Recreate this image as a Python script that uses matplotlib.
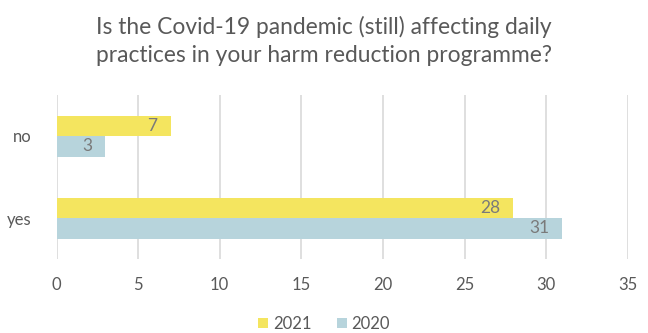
import matplotlib
matplotlib.use("Agg")
import matplotlib.pyplot as plt
import numpy as np

categories = ["yes", "no"]
values_2021 = [28, 7]
values_2020 = [31, 3]
series_labels = ["2021", "2020"]
xticks = [0, 5, 10, 15, 20, 25, 30, 35]

plt.rcParams['font.family'] = ['Lato', 'DejaVu Sans']

fig = plt.figure(figsize=(6.48, 3.33), dpi=100)
ax = fig.add_axes([56.5/648, 1-259/333, (627.7-56.5)/648, 164/333])

y = np.arange(len(categories))
h = 0.25
c21 = "#F4E55F"
c20 = "#B7D4DC"
b1 = ax.barh(y + h/2, values_2021, height=h, color=c21, label=series_labels[0], zorder=3)
b2 = ax.barh(y - h/2, values_2020, height=h, color=c20, label=series_labels[1], zorder=3)

for bars in (b1, b2):
    for bar in bars:
        w = bar.get_width()
        ax.text(w - 0.8, bar.get_y() + bar.get_height()/2, f"{int(w)}",
                ha="right", va="center", fontsize=12.5, color="#7a7a7a", zorder=4)

ax.set_xlim(0, 35)
ax.set_ylim(-0.5, 1.5)
ax.set_xticks(xticks)
ax.set_yticks(y)
ax.set_yticklabels(categories)
ax.grid(axis="x", color="#d9d9d9", linewidth=1.2, zorder=0)
for s in ax.spines.values():
    s.set_visible(False)
ax.tick_params(length=0, labelsize=12, labelcolor="#595959")
ax.tick_params(axis="x", pad=13)
ax.tick_params(axis="y", pad=18)

fig.text(0.5, 1-41/333, "Is the Covid-19 pandemic (still) affecting daily\npractices in your harm reduction programme?",
         ha="center", va="center", fontsize=16.4, color="#595959", linespacing=1.45)

fig.legend(handles=[b1, b2], loc="center", bbox_to_anchor=(0.5, 1-324/333), ncol=2,
           frameon=False, fontsize=12, labelcolor="#595959", handlelength=0.6,
           handleheight=0.6, handletextpad=0.3, columnspacing=1.5)

fig.savefig("out.png", dpi=100)
